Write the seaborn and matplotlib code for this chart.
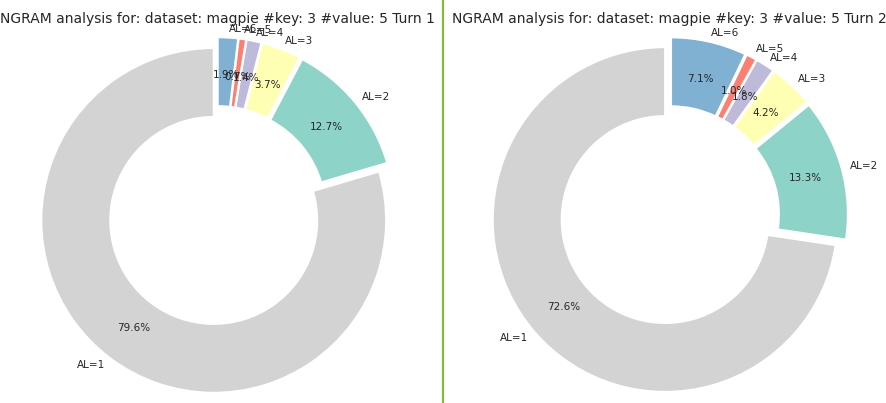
import matplotlib
matplotlib.use("Agg")
import matplotlib.pyplot as plt
import seaborn as sns
from matplotlib.lines import Line2D

sns.set_style("white")

labels = ["AL=1", "AL=2", "AL=3", "AL=4", "AL=5", "AL=6"]
turn1 = [79.5, 12.7, 3.7, 1.4, 0.7, 1.9]
turn2 = [72.7, 13.3, 4.2, 1.8, 1.0, 7.1]
titles = ["NGRAM analysis for: dataset: magpie #key: 3 #value: 5 Turn 1",
          "NGRAM analysis for: dataset: magpie #key: 3 #value: 5 Turn 2"]

set3 = sns.color_palette("Set3", 5)
colors = ["lightgray", set3[0], set3[1], set3[2], set3[3], set3[4]]

fig = plt.figure(figsize=(8.87, 4.03), dpi=100)
ax1 = fig.add_axes([0.0, 0.0, 0.49, 0.93])
ax2 = fig.add_axes([0.51, 0.0, 0.49, 0.93])
for ax, vals, title in zip([ax1, ax2], [turn1, turn2], titles):
    ax.pie(vals, labels=labels, colors=colors, autopct="%1.1f%%", startangle=90,
           explode=[0.04] * len(vals), pctdistance=0.78, labeldistance=1.05,
           normalize=True, radius=1.15,
           wedgeprops=dict(width=0.46, edgecolor="white", linewidth=1.5),
           textprops=dict(fontsize=7.5))
    ax.set_title(title, fontsize=10, pad=4)
    ax.set_aspect("equal")

fig.add_artist(Line2D([0.5, 0.5], [0, 1], color="#7cbf2a", linewidth=1.5,
                      transform=fig.transFigure))
plt.savefig("out.png", dpi=100)
